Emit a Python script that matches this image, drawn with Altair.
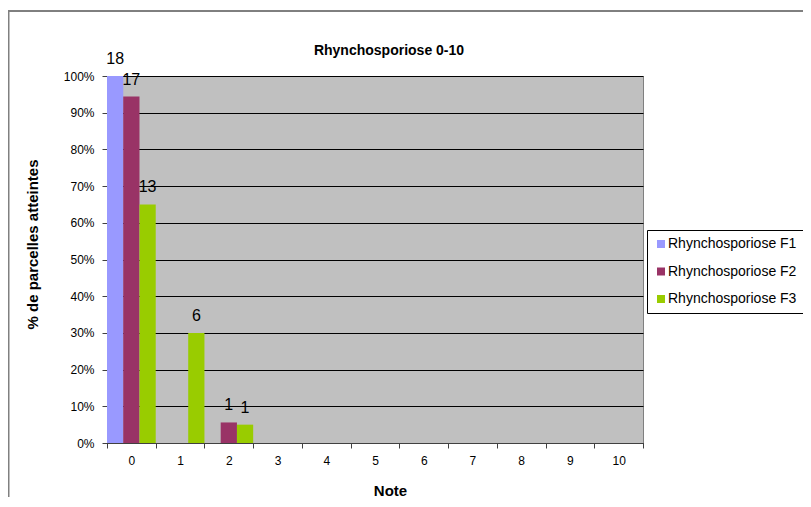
import altair as alt
import pandas as pd

notes = [str(i) for i in range(11)]
series = ["Rhynchosporiose F1", "Rhynchosporiose F2", "Rhynchosporiose F3"]
colors = ["#9999FF", "#993366", "#99CC00"]

pct_f1 = [1.00, 0, 0, 0, 0, 0, 0, 0, 0, 0, 0]
pct_f2 = [0.944, 0, 0.056, 0, 0, 0, 0, 0, 0, 0, 0]
pct_f3 = [0.65, 0.30, 0.05, 0, 0, 0, 0, 0, 0, 0, 0]
cnt_f1 = [18, 0, 0, 0, 0, 0, 0, 0, 0, 0, 0]
cnt_f2 = [17, 0, 1, 0, 0, 0, 0, 0, 0, 0, 0]
cnt_f3 = [13, 6, 1, 0, 0, 0, 0, 0, 0, 0, 0]

rows = []
for s, pcts, cnts in zip(series, [pct_f1, pct_f2, pct_f3], [cnt_f1, cnt_f2, cnt_f3]):
    for n, p, c in zip(notes, pcts, cnts):
        rows.append({"note": n, "serie": s, "pct": p, "count": c})
df = pd.DataFrame(rows)

FONT = "Liberation Sans"

base = alt.Chart(df).encode(
    x=alt.X("note:N", sort=notes,
            scale=alt.Scale(paddingInner=0, paddingOuter=0),
            axis=alt.Axis(title="Note", labelAngle=0, tickBand="extent",
                          tickSize=5, labelPadding=7, titlePadding=17,
                          titleX=283,
                          domainColor="#404040", tickColor="#404040",
                          labelFontSize=12, titleFontSize=15)),
    xOffset=alt.XOffset("serie:N", sort=series,
                        scale=alt.Scale(paddingInner=0, paddingOuter=0)),
    y=alt.Y("pct:Q", scale=alt.Scale(domain=[0, 1]),
            axis=alt.Axis(title="% de parcelles atteintes", format=".0%",
                          values=[i / 10 for i in range(11)],
                          tickSize=5, labelPadding=8, titlePadding=23,
                          titleY=168,
                          grid=True, gridColor="#000000", gridWidth=1,
                          domainColor="#404040", tickColor="#404040",
                          labelFontSize=12, titleFontSize=15)),
)

bars = base.mark_bar(strokeWidth=0).encode(
    color=alt.Color("serie:N", sort=series,
                    scale=alt.Scale(domain=series, range=colors),
                    legend=alt.Legend(title=None, orient="none",
                                      legendX=540, legendY=154,
                                      symbolType="square", symbolSize=64,
                                      symbolStrokeWidth=0,
                                      labelFontSize=14, labelFont=FONT,
                                      labelOffset=0,
                                      rowPadding=13.5, padding=7,
                                      strokeColor="#000000",
                                      fillColor="#FFFFFF")),
)

labels = base.transform_filter("datum.count > 0").mark_text(
    dy=-12, baseline="alphabetic", fontSize=16, font=FONT, color="black"
).encode(text="count:Q")

frame_df = pd.DataFrame({"k": [0]})
frame = alt.Chart(frame_df).mark_rect(filled=False, stroke="black", strokeWidth=1).encode(
    x=alt.value(-99), x2=alt.value(760), y=alt.value(-65), y2=alt.value(460)
)
frame_left = alt.Chart(frame_df).mark_rule(color="#808080", strokeWidth=2).encode(
    x=alt.value(-98.5), y=alt.value(-65), y2=alt.value(460)
)

chart = alt.layer(frame, frame_left, bars, labels).properties(
    width=536, height=367,
    title=alt.TitleParams("Rhynchosporiose 0-10", fontSize=14, font=FONT,
                          fontWeight="bold", anchor="middle", dx=14, offset=-48),
    autosize=alt.AutoSizeParams(type="none"),
    padding={"left": 99, "top": 68, "right": 160, "bottom": 54},
).configure_view(
    fill="#C0C0C0", stroke="#808080"
).configure_axis(
    labelFont=FONT, titleFont=FONT, labelColor="black", titleColor="black",
    titleFontWeight="bold", grid=False
).configure_axisY(grid=True)

chart.save("out.html", embed_options={"renderer": "svg", "actions": False})
